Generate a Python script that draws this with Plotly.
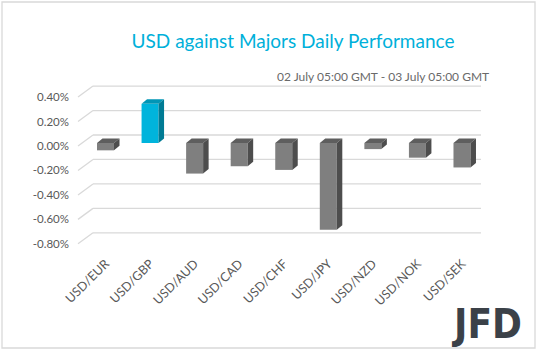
import plotly.graph_objects as go

# ---------------- data ----------------
categories = ["USD/EUR", "USD/GBP", "USD/AUD", "USD/CAD", "USD/CHF",
              "USD/JPY", "USD/NZD", "USD/NOK", "USD/SEK"]
values = [-0.06, 0.32, -0.25, -0.19, -0.22, -0.71, -0.05, -0.12, -0.20]
highlight = "USD/GBP"
y_ticks = [0.40, 0.20, 0.00, -0.20, -0.40, -0.60, -0.80]
y_tick_labels = [f"{v:.2f}%" for v in y_ticks]
title_text = "USD against Majors Daily Performance"
subtitle_text = "02 July 05:00 GMT - 03 July 05:00 GMT"

# ---------------- geometry / style ----------------
W, H = 538, 351
L, R, T, B = 70, 50, 80, 100
CAT_PX = 44.56          # pixel width of one category
X0_PX = 105.5           # pixel centre of first category
ZERO_PX = 143.0         # pixel of value 0 on bar plane
Y_PX = 122.3            # pixels per 1 %
x_range = [(L - X0_PX) / CAT_PX, (W - R - X0_PX) / CAT_PX]
y_range = [-(H - B - ZERO_PX) / Y_PX, (ZERO_PX - T) / Y_PX]

def dx(px):  # pixel distance -> x units
    return px / CAT_PX

def dy(px):  # pixel distance -> y units
    return px / Y_PX

def xpx(px):  # absolute pixel -> x data
    return (px - X0_PX) / CAT_PX

bar_w = dx(17)
depth_x, depth_y = dx(5.5), dy(4.5)

front_gray, top_gray, side_gray = "#7f7f7f", "#5e5e5e", "#4d4d4d"
front_blue, top_blue, side_blue = "#00b4dc", "#0096b6", "#007b94"
grid_col = "#d9d9d9"
font_fam = "Lato, 'Open Sans', sans-serif"

idx = list(range(len(categories)))
front_cols = [front_blue if c == highlight else front_gray for c in categories]

fig = go.Figure()
fig.add_trace(go.Bar(x=idx, y=values, width=bar_w, marker=dict(color=front_cols, line=dict(width=0)),
                     showlegend=False, hoverinfo="skip"))

# 3D faces computed from values
faces = {"gt": ([], []), "gs": ([], []), "bt": ([], []), "bs": ([], [])}
for i, (c, v) in enumerate(zip(categories, values)):
    top, bot = max(v, 0), min(v, 0)
    x0, x1 = i - bar_w / 2, i + bar_w / 2
    k = "b" if c == highlight else "g"
    tx, ty = faces[k + "t"]
    tx += [x0, x0 + depth_x, x1 + depth_x, x1, x0, None]
    ty += [top, top + depth_y, top + depth_y, top, top, None]
    sx, sy = faces[k + "s"]
    sx += [x1, x1 + depth_x, x1 + depth_x, x1, x1, None]
    sy += [top, top + depth_y, bot + depth_y, bot, top, None]
face_cols = {"gt": top_gray, "gs": side_gray, "bt": top_blue, "bs": side_blue}
for k, (fx, fy) in faces.items():
    fig.add_trace(go.Scatter(x=fx, y=fy, mode="lines", fill="toself", fillcolor=face_cols[k],
                             line=dict(width=0, color=face_cols[k]), showlegend=False, hoverinfo="skip"))

# invisible trace for the label axis
fig.add_trace(go.Scatter(x=[0], y=[0], yaxis="y2", mode="markers", marker=dict(opacity=0),
                         showlegend=False, hoverinfo="skip"))

# back-wall gridlines + side-wall diagonals
shapes = []
for v in y_ticks:
    yb = v + dy(8)
    yf = v - dy(3)
    shapes.append(dict(type="line", xref="x", yref="y", x0=xpx(93), x1=xpx(481), y0=yb, y1=yb,
                       line=dict(color=grid_col, width=1.3), layer="below"))
    shapes.append(dict(type="line", xref="x", yref="y", x0=xpx(78), x1=xpx(93), y0=yf, y1=yb,
                       line=dict(color=grid_col, width=1.3), layer="below"))
# outer border
shapes.append(dict(type="rect", xref="paper", yref="paper",
                   x0=(2 - L) / (W - L - R), x1=(535 - L) / (W - L - R),
                   y0=(H - B - 348) / (H - T - B), y1=(H - B - 2) / (H - T - B),
                   line=dict(color=grid_col, width=1.3), layer="below"))

fig.update_layout(
    width=W, height=H, margin=dict(l=L, r=R, t=T, b=B),
    paper_bgcolor="white", plot_bgcolor="white",
    title=dict(text=title_text, x=293 / W, xanchor="center", y=1 - 41 / H, yanchor="middle",
               xref="container", yref="container",
               font=dict(family=font_fam, size=19, color="#00b0da")),
    xaxis=dict(range=x_range, tickvals=idx, ticktext=categories, tickangle=-45,
               showgrid=False, zeroline=False, showline=False, ticks="",
               ticklabelstandoff=2,
               tickfont=dict(family=font_fam, size=12.5, color="#595959")),
    yaxis=dict(range=y_range, showgrid=False, zeroline=False, showline=False,
               showticklabels=False, ticks=""),
    yaxis2=dict(overlaying="y", side="left", range=[y_range[0] + dy(3), y_range[1] + dy(3)],
                tickvals=y_ticks, ticktext=y_tick_labels, showgrid=False, zeroline=False,
                showline=False, ticks="", ticklabelstandoff=0,
                tickfont=dict(family=font_fam, size=11.5, color="#595959")),
    shapes=shapes,
    annotations=[
        dict(text=subtitle_text, xref="paper", yref="paper",
             x=(491 - L) / (W - L - R), xanchor="right",
             y=(H - B - 77) / (H - T - B), yanchor="middle", showarrow=False,
             font=dict(family=font_fam, size=12, color="#6a6a6a")),
        dict(text="<b>JFD</b>", xref="paper", yref="paper",
             x=(524 - L) / (W - L - R), xanchor="right",
             y=(H - B - 324) / (H - T - B), yanchor="middle", showarrow=False,
             font=dict(family="'Liberation Sans Narrow', 'DejaVu Sans Condensed', Roboto, sans-serif",
                       size=40, color="#3b4148")),
    ],
)

fig.write_html("out.html")
